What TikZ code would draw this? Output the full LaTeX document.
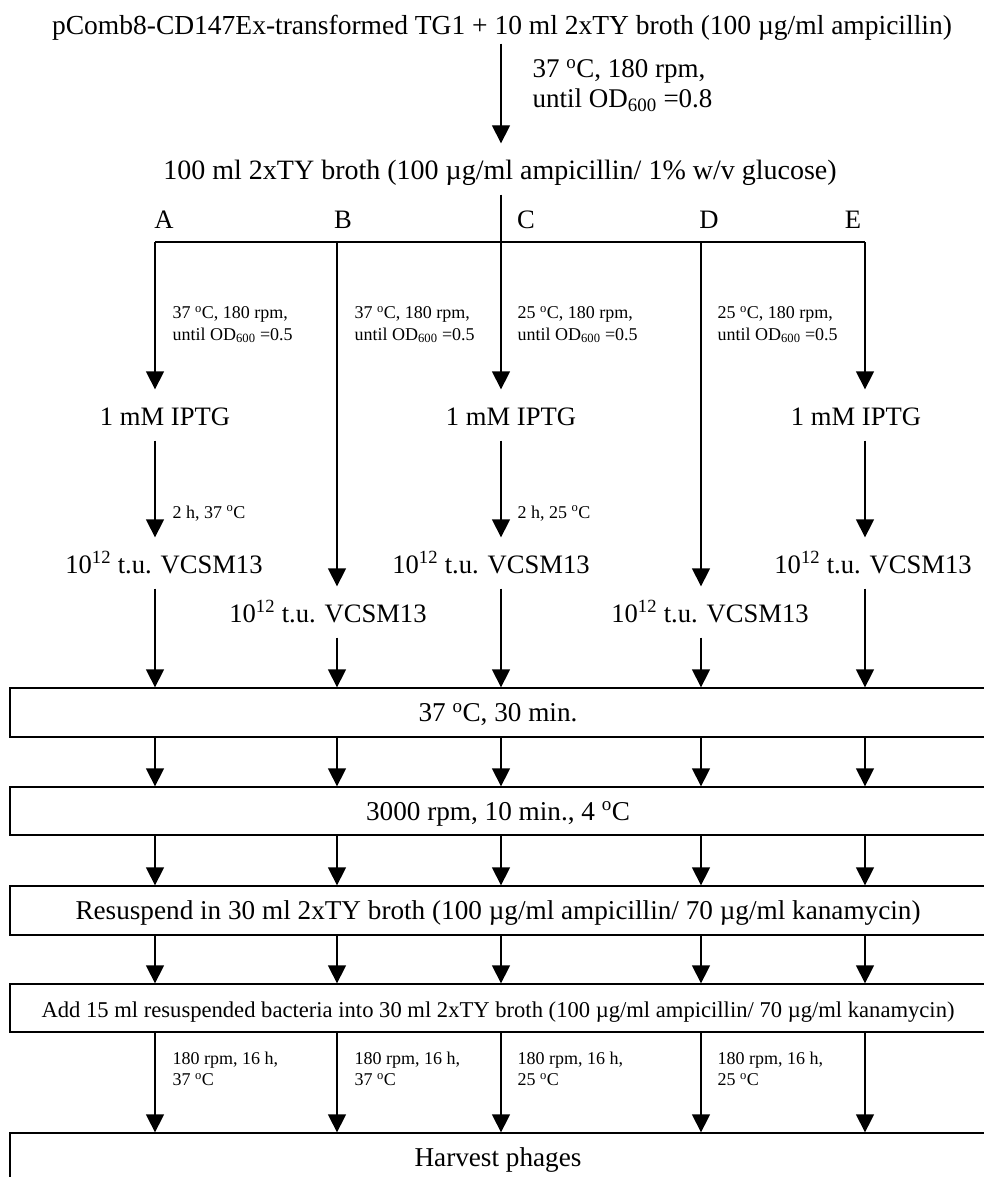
\documentclass[tikz,border=0pt]{standalone}
\usepackage{fontspec}
\setmainfont{Liberation Serif}
\usetikzlibrary{positioning}
\usetikzlibrary{arrows.meta}

\begin{document}
\begin{tikzpicture}[
    x=1pt, y=-1pt, line width=1.3pt,
    flow/.style={-{Triangle[width=18pt,length=18pt]}},
    txt/.style={anchor=base, inner xsep=0pt, inner ysep=10pt, text height=25pt, text depth=5pt,
        font=\fontsize{26.6}{30}\selectfont},
    cond/.style={inner sep=0pt, align=left, anchor=north west,
        font=\fontsize{18}{21.5}\selectfont},
    stage/.style={draw, minimum width=976pt, inner sep=0pt, text height=20pt, text depth=2pt,
        font=\fontsize{27.2}{30}\selectfont}
]
    \useasboundingbox (0,0) rectangle (984,1177);
    \clip (0,0) rectangle (984,1177);

    % --- culture and split ---
    \node[txt, inner ysep=3pt, font=\fontsize{27.5}{30}\selectfont] (start) at (502,35)
        {pComb8-CD147Ex-transformed TG1 + 10 ml 2xTY broth (100 µg/ml ampicillin)};
    \node[txt, font=\fontsize{28}{30}\selectfont] (broth) at (500,179)
        {100 ml 2xTY broth (100 µg/ml ampicillin/ 1\% w/v glucose)};
    \node[cond, font=\fontsize{27}{30}\selectfont] (grow) at (532,59)
        {37 \textsuperscript{o}C, 180 rpm,\\until OD\textsubscript{600} =0.8};

    \coordinate (colA) at (155,242);
    \coordinate (colB) at (337,242);
    \coordinate (colC) at (501,242);
    \coordinate (colD) at (701,242);
    \coordinate (colE) at (865,242);

    \draw[flow] (start.south -| colC) -- (broth.north -| colC);
    \draw (colA) -- (colE);

    \node[txt] (labA) at (164,228) {A};
    \node[txt] (labB) at (343,228) {B};
    \node[txt] (labC) at (526,228) {C};
    \node[txt] (labD) at (709,228) {D};
    \node[txt] (labE) at (853,228) {E};

    % --- induction ---
    \node[txt] (iptgA) at (165,425) {1 mM IPTG};
    \node[txt] (iptgC) at (511,425) {1 mM IPTG};
    \node[txt] (iptgE) at (856,425) {1 mM IPTG};

    \node[txt] (vcA) at (164,573) {10\textsuperscript{12} t.u. VCSM13};
    \node[txt] (vcB) at (328,622) {10\textsuperscript{12} t.u. VCSM13};
    \node[txt] (vcC) at (491,573) {10\textsuperscript{12} t.u. VCSM13};
    \node[txt] (vcD) at (710,622) {10\textsuperscript{12} t.u. VCSM13};
    \node[txt] (vcE) at (873,573) {10\textsuperscript{12} t.u. VCSM13};

    \draw[flow] (colA) -- (iptgA.north -| colA);
    \draw[flow] (colB) -- (vcB.north -| colB);
    \draw[flow] (broth.south -| colC) -- (iptgC.north -| colC);
    \draw[flow] (colD) -- (vcD.north -| colD);
    \draw[flow] (colE) -- (iptgE.north -| colE);

    \node[cond] (condA) at (172,306) {37 \textsuperscript{o}C, 180 rpm,\\until OD\textsubscript{600} =0.5};
    \node[cond] (condB) at (354,306) {37 \textsuperscript{o}C, 180 rpm,\\until OD\textsubscript{600} =0.5};
    \node[cond] (condC) at (517,306) {25 \textsuperscript{o}C, 180 rpm,\\until OD\textsubscript{600} =0.5};
    \node[cond] (condD) at (717,306) {25 \textsuperscript{o}C, 180 rpm,\\until OD\textsubscript{600} =0.5};

    \draw[flow] (iptgA.south -| colA) -- (vcA.north -| colA);
    \draw[flow] (iptgC.south -| colC) -- (vcC.north -| colC);
    \draw[flow] (iptgE.south -| colE) -- (vcE.north -| colE);

    \node[cond] (holdA) at (172,505) {2 h, 37 \textsuperscript{o}C};
    \node[cond] (holdC) at (517,505) {2 h, 25 \textsuperscript{o}C};

    % --- common steps ---
    \node[stage, minimum height=49pt] (incub) at (498,712.5) {37 \textsuperscript{o}C, 30 min.};
    \node[stage, minimum height=48pt] (spin) at (498,811) {3000 rpm, 10 min., 4 \textsuperscript{o}C};
    \node[stage, minimum height=49pt] (resusp) at (498,910.5) {Resuspend in 30 ml 2xTY broth (100 µg/ml ampicillin/ 70 µg/ml kanamycin)};
    \node[stage, minimum height=48pt, font=\fontsize{22.6}{25}\selectfont] (dilute) at (498,1008)
        {Add 15 ml resuspended bacteria into 30 ml 2xTY broth (100 µg/ml ampicillin/ 70 µg/ml kanamycin)};
    \node[stage, minimum height=49pt] (harvest) at (498,1157.5) {Harvest phages};

    \foreach \c in {A,B,C,D,E} {
        \draw[flow] (vc\c.south -| col\c) -- (incub.north -| col\c);
        \draw[flow] (incub.south -| col\c) -- (spin.north -| col\c);
        \draw[flow] (spin.south -| col\c) -- (resusp.north -| col\c);
        \draw[flow] (resusp.south -| col\c) -- (dilute.north -| col\c);
        \draw[flow] (dilute.south -| col\c) -- (harvest.north -| col\c);
    }

    \node[cond] (shakeA) at (172,1051) {180 rpm, 16 h,\\37 \textsuperscript{o}C};
    \node[cond] (shakeB) at (354,1051) {180 rpm, 16 h,\\37 \textsuperscript{o}C};
    \node[cond] (shakeC) at (517,1051) {180 rpm, 16 h,\\25 \textsuperscript{o}C};
    \node[cond] (shakeD) at (717,1051) {180 rpm, 16 h,\\25 \textsuperscript{o}C};
\end{tikzpicture}
\end{document}
